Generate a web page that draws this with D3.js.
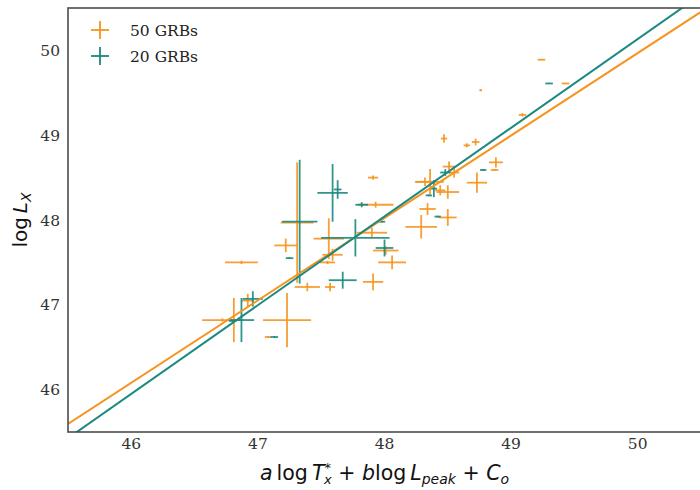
<!DOCTYPE html>
<html>
<head>
<meta charset="utf-8">
<script src="https://cdn.jsdelivr.net/npm/d3@7"></script>
<style>
  html, body { margin: 0; padding: 0; background: #fff; }
  svg { display: block; }
</style>
</head>
<body>
<div id="chart"></div>
<script>
// ---- data: 50-GRB sample (orange) ----
const grb50X    = [49.24, 48.76, 49.43, 49.09, 48.47, 48.65, 48.72, 48.88, 48.87, 48.51, 48.55, 48.36, 48.32, 48.50, 48.44, 48.73, 47.91, 47.93, 48.34, 48.50, 48.29, 47.90, 48.01, 48.06, 47.91, 47.56, 47.59, 47.55, 47.31, 47.22, 46.87, 47.39, 47.57, 46.92, 47.23, 47.08, 46.81, 46.72];
const grb50Y    = [49.89, 49.53, 49.61, 49.24, 48.96, 48.88, 48.92, 48.68, 48.59, 48.63, 48.56, 48.45, 48.45, 48.33, 48.35, 48.44, 48.50, 48.18, 48.13, 48.03, 47.92, 47.85, 47.64, 47.50, 47.27, 47.78, 47.59, 47.50, 47.97, 47.70, 47.50, 47.21, 47.21, 47.05, 46.82, 46.62, 46.82, 46.82];
const grb50XErr = [0.03, 0.01, 0.03, 0.03, 0.025, 0.025, 0.03, 0.055, 0.03, 0.05, 0.04, 0.11, 0.08, 0.09, 0.04, 0.08, 0.04, 0.14, 0.065, 0.07, 0.125, 0.12, 0.10, 0.11, 0.08, 0.12, 0.08, 0.06, 0.13, 0.09, 0.13, 0.10, 0.04, 0.05, 0.19, 0.025, 0.04, 0.16];
const grb50YErr = [0.005, 0.01, 0.005, 0.02, 0.05, 0.025, 0.04, 0.06, 0.01, 0.06, 0.06, 0.15, 0.05, 0.08, 0.06, 0.12, 0.025, 0.035, 0.07, 0.10, 0.14, 0.06, 0.05, 0.08, 0.10, 0.24, 0.07, 0.02, 0.71, 0.08, 0.02, 0.05, 0.05, 0.08, 0.32, 0.01, 0.26, 0.02];

// ---- data: 20-GRB sample (teal) ----
const grb20X    = [49.30, 48.78, 48.48, 48.39, 48.35, 48.42, 47.98, 47.82, 47.59, 47.63, 47.33, 47.77, 48.00, 47.67, 47.25, 46.96, 46.87, 47.13, 46.80];
const grb20Y    = [49.61, 48.59, 48.56, 48.37, 48.29, 48.04, 47.98, 48.18, 48.32, 48.36, 47.98, 47.79, 47.67, 47.29, 47.55, 47.07, 46.82, 46.62, 46.81];
const grb20XErr = [0.03, 0.025, 0.04, 0.025, 0.025, 0.025, 0.025, 0.05, 0.12, 0.03, 0.14, 0.27, 0.07, 0.11, 0.03, 0.08, 0.10, 0.03, 0.03];
const grb20YErr = [0.005, 0.01, 0.04, 0.10, 0.01, 0.01, 0.01, 0.03, 0.34, 0.11, 0.73, 0.22, 0.10, 0.10, 0.01, 0.09, 0.26, 0.01, 0.01];

// ---- best-fit lines: y = slope * x + intercept ----
const fitSlopes     = [0.972, 1.046];
const fitIntercepts = [1.368, -2.166];

// ---- axes ----
const xDomain = [45.5, 50.5];
const yDomain = [45.5, 50.5];
const xTicks = [46, 47, 48, 49, 50];
const yTicks = [46, 47, 48, 49, 50];
const seriesNames = ["50 GRBs", "20 GRBs"];
const seriesColors = ["#f7931e", "#1a8a80"];

const W = 700, H = 490;
const M = { left: 68, right: -1, top: 8, bottom: 58 };

const svg = d3.select("#chart").append("svg")
  .attr("width", W).attr("height", H);

const x = d3.scaleLinear().domain(xDomain).range([M.left, W - M.right]);
const y = d3.scaleLinear().domain(yDomain).range([H - M.bottom, M.top]);

svg.append("defs").append("clipPath").attr("id", "plotClip")
  .append("rect")
  .attr("x", M.left).attr("y", M.top)
  .attr("width", W - M.right - M.left).attr("height", H - M.bottom - M.top);

const plot = svg.append("g").attr("clip-path", "url(#plotClip)");

// error bars
function drawErrorBars(xs, ys, xe, ye, color) {
  const g = plot.append("g")
    .attr("stroke", color).attr("stroke-width", 1.8)
    .attr("stroke-opacity", 0.9).attr("fill", "none");
  const pts = xs.map((v, i) => ({ x: v, y: ys[i], xe: xe[i], ye: ye[i] }));
  g.selectAll("line.h").data(pts).join("line").attr("class", "h")
    .attr("x1", d => x(d.x - d.xe)).attr("x2", d => x(d.x + d.xe))
    .attr("y1", d => y(d.y)).attr("y2", d => y(d.y));
  g.selectAll("line.v").data(pts).join("line").attr("class", "v")
    .attr("x1", d => x(d.x)).attr("x2", d => x(d.x))
    .attr("y1", d => y(d.y - d.ye)).attr("y2", d => y(d.y + d.ye));
}
drawErrorBars(grb50X, grb50Y, grb50XErr, grb50YErr, seriesColors[0]);
drawErrorBars(grb20X, grb20Y, grb20XErr, grb20YErr, seriesColors[1]);

// fit lines
fitSlopes.forEach((s, i) => {
  plot.append("line")
    .attr("x1", x(xDomain[0])).attr("y1", y(s * xDomain[0] + fitIntercepts[i]))
    .attr("x2", x(xDomain[1])).attr("y2", y(s * xDomain[1] + fitIntercepts[i]))
    .attr("stroke", seriesColors[i]).attr("stroke-width", 2);
});

// frame (right edge falls at the page border)
svg.append("rect")
  .attr("x", M.left).attr("y", M.top)
  .attr("width", W - M.right - M.left).attr("height", H - M.bottom - M.top)
  .attr("fill", "none").attr("stroke", "#4d4d4d").attr("stroke-width", 1.6);

// tick labels
const tickFont = "'DejaVu Serif', serif";
svg.append("g").selectAll("text").data(xTicks).join("text")
  .attr("x", d => x(d)).attr("y", H - M.bottom + 17)
  .attr("text-anchor", "middle")
  .attr("font-family", tickFont).attr("font-size", 15.5).attr("fill", "#333")
  .text(d => d);
svg.append("g").selectAll("text").data(yTicks).join("text")
  .attr("x", M.left - 8).attr("y", d => y(d) + 5.5)
  .attr("text-anchor", "end")
  .attr("font-family", tickFont).attr("font-size", 15.5).attr("fill", "#333")
  .text(d => d);

// axis titles (math style)
const mathFont = "'DejaVu Sans', sans-serif";
const xl = svg.append("text")
  .attr("x", (M.left + W - M.right) / 2).attr("y", H - 10)
  .attr("text-anchor", "middle")
  .attr("font-family", mathFont).attr("font-size", 20.5).attr("fill", "#111");
const parts = [
  { t: "a", it: true },
  { t: "\u2009log\u2009", it: false },
  { t: "T", it: true },
  { t: "*", it: false, dy: -8, size: 13 },
  { t: "x", it: true, dy: 12, size: 13, dx: -7 },
  { t: " + ", it: false, dy: -4 },
  { t: "b", it: true },
  { t: "log\u2009", it: false },
  { t: "L", it: true },
  { t: "peak", it: true, dy: 4, size: 14 },
  { t: " + ", it: false, dy: -4 },
  { t: "C", it: true },
  { t: "o", it: true, dy: 4, size: 14 }
];
parts.forEach(p => {
  const ts = xl.append("tspan").text(p.t)
    .attr("font-style", p.it ? "italic" : "normal");
  if (p.dy) ts.attr("dy", p.dy);
  if (p.dx) ts.attr("dx", p.dx);
  if (p.size) ts.attr("font-size", p.size);
});

const yl = svg.append("text")
  .attr("transform", `translate(27, ${(M.top + H - M.bottom) / 2}) rotate(-90)`)
  .attr("text-anchor", "middle")
  .attr("font-family", mathFont).attr("font-size", 20).attr("fill", "#111");
yl.append("tspan").text("log\u2009");
yl.append("tspan").text("L").attr("font-style", "italic");
yl.append("tspan").text("X").attr("font-style", "italic").attr("font-size", 14).attr("dy", 4);

// legend
const legend = svg.append("g");
seriesNames.forEach((name, i) => {
  const cy = 30 + i * 26, cx = 100;
  const g = legend.append("g").attr("stroke", seriesColors[i]).attr("stroke-width", 1.8);
  g.append("line").attr("x1", cx - 9).attr("x2", cx + 9).attr("y1", cy).attr("y2", cy);
  g.append("line").attr("x1", cx).attr("x2", cx).attr("y1", cy - 9).attr("y2", cy + 9);
  legend.append("text")
    .attr("x", 130).attr("y", cy + 5.5)
    .attr("font-family", tickFont).attr("font-size", 15.5).attr("fill", "#222")
    .text(name);
});
</script>
</body>
</html>
